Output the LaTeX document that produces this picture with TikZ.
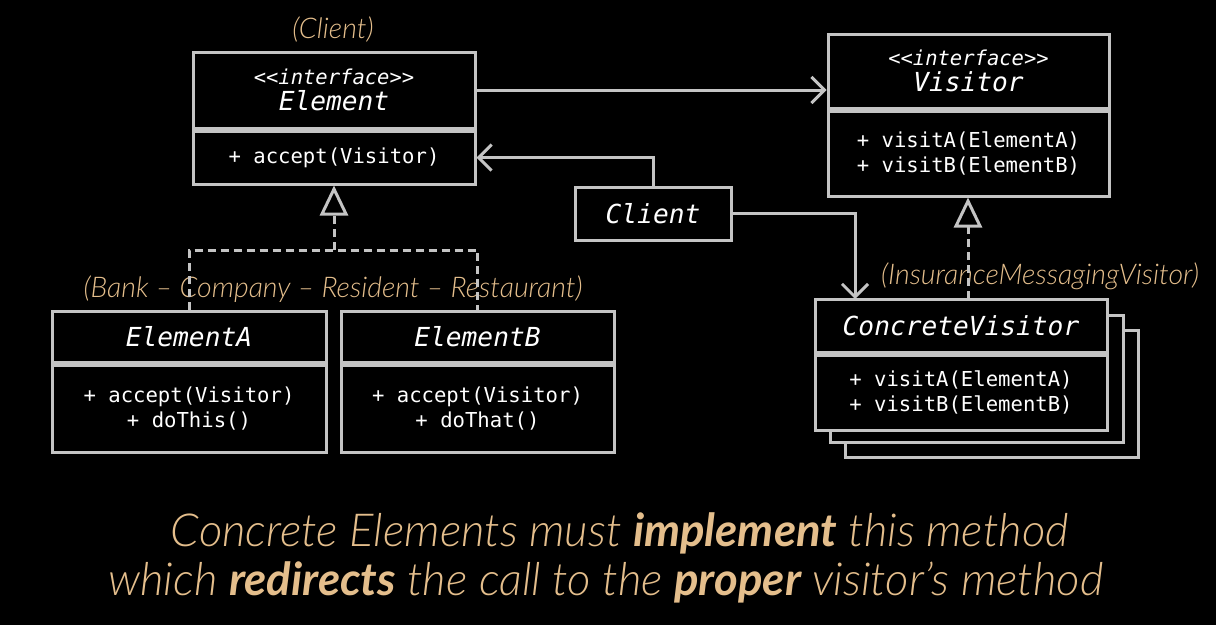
\documentclass[tikz,border=0pt]{standalone}
\usepackage{fontspec}
\setmonofont{DejaVu Sans Mono}
\newfontfamily\tanfont{Lato}[UprightFont=* Light, ItalicFont=* Light Italic, BoldFont=* Bold, BoldItalicFont=* Bold Italic]
\usetikzlibrary{arrows.meta,positioning}
\definecolor{linec}{RGB}{196,196,196}
\definecolor{tanc}{RGB}{228,190,140}

\begin{document}
\begin{tikzpicture}[x=1pt,y=-1pt,line width=3pt,
  box/.style={draw=linec,fill=black,text=white,inner sep=0pt,align=center},
  ttl/.style={font=\fontsize{26.2}{28}\ttfamily\itshape},
  bdy/.style={font=\fontsize{20.6}{25}\ttfamily},
  tan/.style={text=tanc,font=\fontsize{28.5}{32}\tanfont\itshape},
  captext/.style={text=tanc,font=\fontsize{45.5}{52}\tanfont\itshape},
  dep/.style={draw=linec,-{Straight Barb[length=13pt,width=26pt,line width=3pt]}},
  real/.style={draw=linec,dash pattern=on 8pt off 5pt,-{Triangle[open,length=30pt,width=28pt,line width=3pt,fill=black]}}]
\fill[black] (0,0) rectangle (1216,625);
\useasboundingbox (0,0) rectangle (1216,625);
% Element interface
\node[box,minimum width=282pt,minimum height=76pt] (el) at (334,90)
  {{\fontsize{20.5}{22}\ttfamily\itshape <{}<interface>{}>}\\[5pt]{\fontsize{26.2}{28}\ttfamily\itshape Element}};
\node[box,bdy,minimum width=282pt,minimum height=53pt,below=0pt of el] (elb) {+ accept(Visitor)};
\node[tan] (elnote) at (333,30) {(Client)};
% Visitor interface
\node[box,minimum width=281pt,minimum height=74pt] (vi) at (968.5,71)
  {{\fontsize{20.5}{22}\ttfamily\itshape <{}<interface>{}>}\\[5pt]{\fontsize{26.2}{28}\ttfamily\itshape Visitor}};
\node[box,bdy,minimum width=281pt,minimum height=85pt,below=0pt of vi] (vib) {+ visitA(ElementA)\\+ visitB(ElementB)};
% Client
\node[box,ttl,minimum width=156pt,minimum height=53pt] (cl) at (653,213.5) {Client};
% concrete elements
\node[box,ttl,minimum width=274pt,minimum height=51pt] (ea) at (189,336.5) {ElementA};
\node[box,bdy,minimum width=274pt,minimum height=87pt,below=0pt of ea] (eab) {+ accept(Visitor)\\+ doThis()};
\node[box,ttl,minimum width=273pt,minimum height=51pt] (eb) at (477.5,336.5) {ElementB};
\node[box,bdy,minimum width=273pt,minimum height=87pt,below=0pt of eb] (ebb) {+ accept(Visitor)\\+ doThat()};
\node[tan] (eanote) at (333,289) {(Bank – Company – Resident – Restaurant)};
% concrete visitors (stacked)
\draw[linec,fill=black] (845,330) rectangle (1138,457);
\draw[linec,fill=black] (830,315) rectangle (1123,442);
\node[box,ttl,minimum width=292pt,minimum height=53pt] (cv) at (961,325.5) {ConcreteVisitor};
\node[box,bdy,minimum width=292pt,minimum height=75pt,below=0pt of cv] (cvb) {+ visitA(ElementA)\\+ visitB(ElementB)};
\node[tan] (cvnote) at (1040,276) {(InsuranceMessagingVisitor)};
% connectors
\coordinate (fork) at (334,250);
\coordinate (cvin) at (855,299);
\coordinate (cvup) at (968,299);
\draw[dep] (el.east |- 0,90) -- (vi.west |- 0,90);
\draw[dep] (cl.north) |- (elb.east);
\draw[dep] (cl.east) -| (cvin);
\draw[linec,dash pattern=on 8pt off 5pt] (ea.north) |- (fork) -| (eb.north);
\draw[real] (fork) -- (elb.south);
\draw[real] (cvup) -- (cvup |- vib.south);
% caption
\node[captext] (cap1) at (620,533) {Concrete Elements must \textbf{implement} this method};
\node[captext] (cap2) at (606,582) {which \textbf{redirects} the call to the \textbf{proper} visitor’s method};
\end{tikzpicture}
\end{document}
